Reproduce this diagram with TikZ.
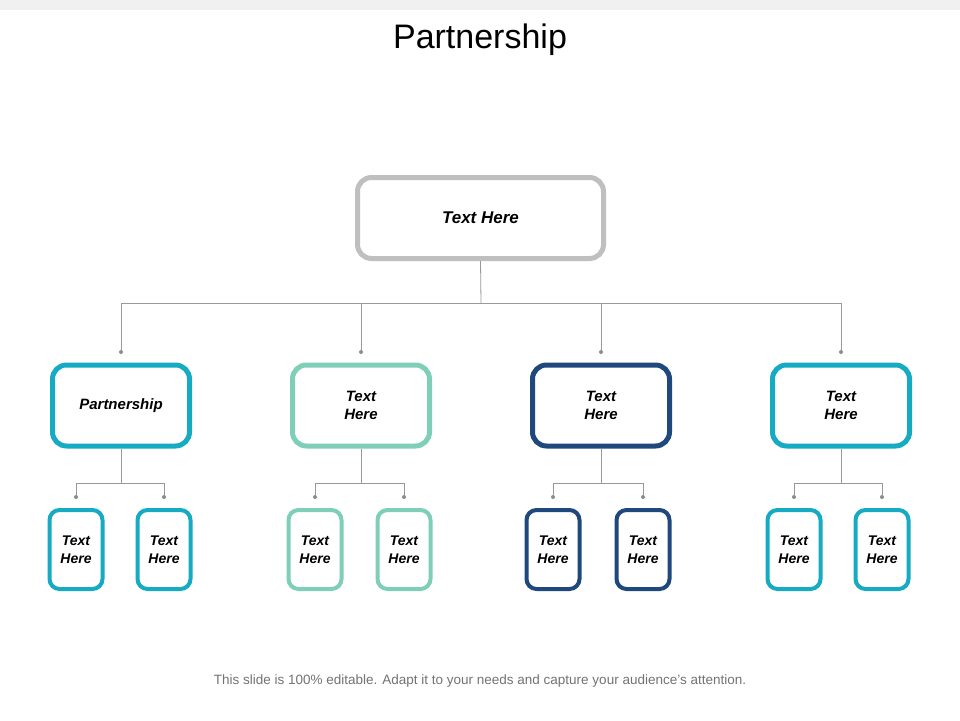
\documentclass[tikz,border=0pt]{standalone}
\usepackage{fontspec}
\setmainfont{Liberation Sans}
\begin{document}
\begin{tikzpicture}[x=1pt,y=-1pt,
  bx/.style={draw,line width=5pt,rounded corners=14pt,fill=white,align=center,font=\bfseries\itshape\fontsize{15}{18}\selectfont,inner sep=0pt},
  sm/.style={draw,line width=4pt,rounded corners=10pt,fill=white,align=center,minimum width=53pt,minimum height=79pt,font=\bfseries\itshape\fontsize{14}{18}\selectfont,inner sep=0pt},
  ln/.style={draw=gray!80,line width=0.8pt},
  dt/.style={circle,fill=gray!90,inner sep=0pt,minimum size=4pt}]
\definecolor{tl}{HTML}{17AAC3}\definecolor{mt}{HTML}{7FCFB8}\definecolor{nv}{HTML}{1F497D}\definecolor{gy}{HTML}{BFBFBF}
\fill[white] (0,0) rectangle (960,720);
\fill[gray!12] (0,0) rectangle (960,10);
\node (title) at (480,40) {\fontsize{34}{40}\selectfont Partnership};
\node (foot) at (480,681) {\color{gray!90!black}\fontsize{13.5}{16}\selectfont This slide is 100\% editable. Adapt it to your needs and capture your audience's attention.};
\node[bx,draw=gy,minimum width=246pt,minimum height=81pt,font=\bfseries\itshape\fontsize{17}{20}\selectfont] (top) at (480.5,218) {Text Here};
\coordinate (hb) at (481,303);
\draw[ln] (top.south) -- (hb);
\foreach \i/\x/\c/\t in {1/121/tl/Partnership,2/361/mt/{Text\\Here},3/601/nv/{Text\\Here},4/841/tl/{Text\\Here}}{
  \node[bx,draw=\c,minimum width=137pt,minimum height=81pt] (m\i) at (\x,405.5) {\t};
  \node[dt] (d\i) at (\x,352) {};
  \draw[ln] (\x,303) -- (d\i);
}
\draw[ln] (d1 |- hb) -- (d4 |- hb);
\foreach \i/\a/\b/\c in {1/76/164/tl,2/315/404/mt,3/553/643/nv,4/794/882/tl}{
  \node[sm,draw=\c] (a\i) at (\a,549.5) {Text\\Here};
  \node[sm,draw=\c] (b\i) at (\b,549.5) {Text\\Here};
  \node[dt] (p\i) at (\a,497) {};
  \node[dt] (q\i) at (\b,497) {};
  \coordinate (h\i) at (m\i.south |- 0,483);
  \draw[ln] (m\i.south) -- (h\i);
  \draw[ln] (p\i) -- (\a,483) -- (\b,483) -- (q\i);
}
\end{tikzpicture}
\end{document}
